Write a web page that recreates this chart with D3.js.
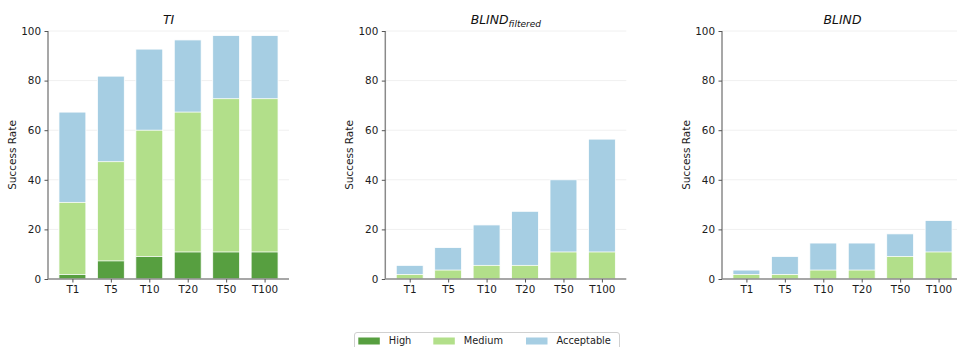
<!DOCTYPE html>
<html>
<head>
<meta charset="utf-8">
<script src="https://cdn.jsdelivr.net/npm/d3@7"></script>
<style>
html,body{margin:0;padding:0;background:#fff;}
svg{display:block;font-family:"DejaVu Sans",sans-serif;}
</style>
</head>
<body>
<svg id="chart" width="957" height="347"></svg>
<script>
const categories = ["T1","T5","T10","T20","T50","T100"];
const yTicks = [0,20,40,60,80,100];
const seriesNames = ["High","Medium","Acceptable"];
const seriesColors = ["#579f40","#b2df8a","#a6cee3"];

// cumulative success rates (each level includes the stricter ones)
const tiHigh       = [1.8, 7.3, 9.1, 10.9, 10.9, 10.9];
const tiMedium     = [30.9, 47.3, 60.0, 67.3, 72.7, 72.7];
const tiAcceptable = [67.3, 81.8, 92.7, 96.4, 98.2, 98.2];

const bfHigh       = [0, 0, 0, 0, 0, 0];
const bfMedium     = [1.8, 3.6, 5.5, 5.5, 10.9, 10.9];
const bfAcceptable = [5.5, 12.7, 21.8, 27.3, 40.0, 56.4];

const bHigh        = [0, 0, 0, 0, 0, 0];
const bMedium      = [1.8, 1.8, 3.6, 3.6, 9.1, 10.9];
const bAcceptable  = [3.6, 9.1, 14.5, 14.5, 18.2, 23.6];

const panels = [
  {title:"TI", sub:null, left:48, high:tiHigh, med:tiMedium, acc:tiAcceptable},
  {title:"BLIND", sub:"filtered", left:385.3, high:bfHigh, med:bfMedium, acc:bfAcceptable},
  {title:"BLIND", sub:null, left:722, high:bHigh, med:bMedium, acc:bAcceptable}
];

const svg = d3.select("#chart");
const W = 241, plotTop = 31, plotBottom = 279;
const y = d3.scaleLinear().domain([0,100]).range([plotBottom, plotTop]);
const textColor = "#1c1c1c";

panels.forEach(p => {
  const x = d3.scaleLinear().domain([-0.635, 5.635]).range([p.left, p.left + W]);
  const g = svg.append("g");

  // grid
  g.selectAll("line.grid").data(yTicks.slice(1)).join("line")
    .attr("x1", p.left).attr("x2", p.left + W)
    .attr("y1", d => y(d)).attr("y2", d => y(d))
    .attr("stroke", "#f0f0f0").attr("stroke-width", 1);

  const layers = [
    {vals:p.acc, color:seriesColors[2]},
    {vals:p.med, color:seriesColors[1]},
    {vals:p.high, color:seriesColors[0]}
  ];
  layers.forEach(L => {
    g.append("g").selectAll("rect").data(categories.map((c,i)=>({i, v:L.vals[i]})).filter(d=>d.v>0)).join("rect")
      .attr("x", d => x(d.i - 0.35))
      .attr("width", d => x(0.35) - x(-0.35))
      .attr("y", d => y(d.v))
      .attr("height", d => y(0) - y(d.v))
      .attr("fill", L.color)
      .attr("stroke", "#fff").attr("stroke-width", 0.8);
  });

  // y axis
  const ya = g.append("g").attr("transform", `translate(${p.left},0)`)
    .call(d3.axisLeft(y).tickValues(yTicks).tickSize(3.5).tickPadding(3.5));
  ya.select(".domain").attr("stroke", "#8a8a8a").attr("stroke-width", 1.5)
    .attr("d", `M0,${plotBottom}V${plotTop}`);
  ya.selectAll(".tick line").attr("stroke", "#555");
  ya.selectAll(".tick text").attr("fill", textColor).style("font-size", "10.4px")
    .style("font-family", "DejaVu Sans");

  // x axis
  const xa = g.append("g").attr("transform", `translate(0,${plotBottom})`)
    .call(d3.axisBottom(x).tickValues(d3.range(categories.length))
      .tickFormat(i => categories[i]).tickSize(3.5).tickPadding(3.5));
  xa.select(".domain").attr("stroke", "#8a8a8a").attr("stroke-width", 1.5)
    .attr("d", `M${p.left},0H${p.left + W}`);
  xa.selectAll(".tick line").attr("stroke", "#555");
  xa.selectAll(".tick text").attr("fill", textColor).style("font-size", "10.4px")
    .style("font-family", "DejaVu Sans");

  // y label
  g.append("text")
    .attr("transform", `translate(${p.left - 35.8},${(plotTop+plotBottom)/2}) rotate(-90)`)
    .attr("text-anchor", "middle").attr("dy", "0.35em")
    .attr("fill", textColor).style("font-size", "10.5px")
    .text("Success Rate");

  // title
  const t = g.append("text")
    .attr("x", p.left + W/2).attr("y", plotTop - 7)
    .attr("text-anchor", "middle").attr("fill", "#111")
    .style("font-size", "12.4px").style("font-style", "italic");
  t.append("tspan").text(p.title);
  if (p.sub) t.append("tspan").attr("dy", 3).style("font-size", "9px").text(p.sub);
});

// legend
const lg = svg.append("g");
lg.append("rect").attr("x", 354.5).attr("y", 332.5).attr("width", 265).attr("height", 24)
  .attr("rx", 2.5).attr("fill", "#fff").attr("stroke", "#d0d0d0").attr("stroke-width", 1);
const patchX = [358.3, 433.3, 526];
seriesNames.forEach((s, i) => {
  lg.append("rect").attr("x", patchX[i]).attr("y", 337.5).attr("width", 21.5).attr("height", 7)
    .attr("fill", seriesColors[i]);
  lg.append("text").attr("x", patchX[i] + 30.5).attr("y", 341).attr("dy", "0.35em")
    .attr("fill", textColor).style("font-size", "9.8px").text(s);
});
</script>
</body>
</html>
